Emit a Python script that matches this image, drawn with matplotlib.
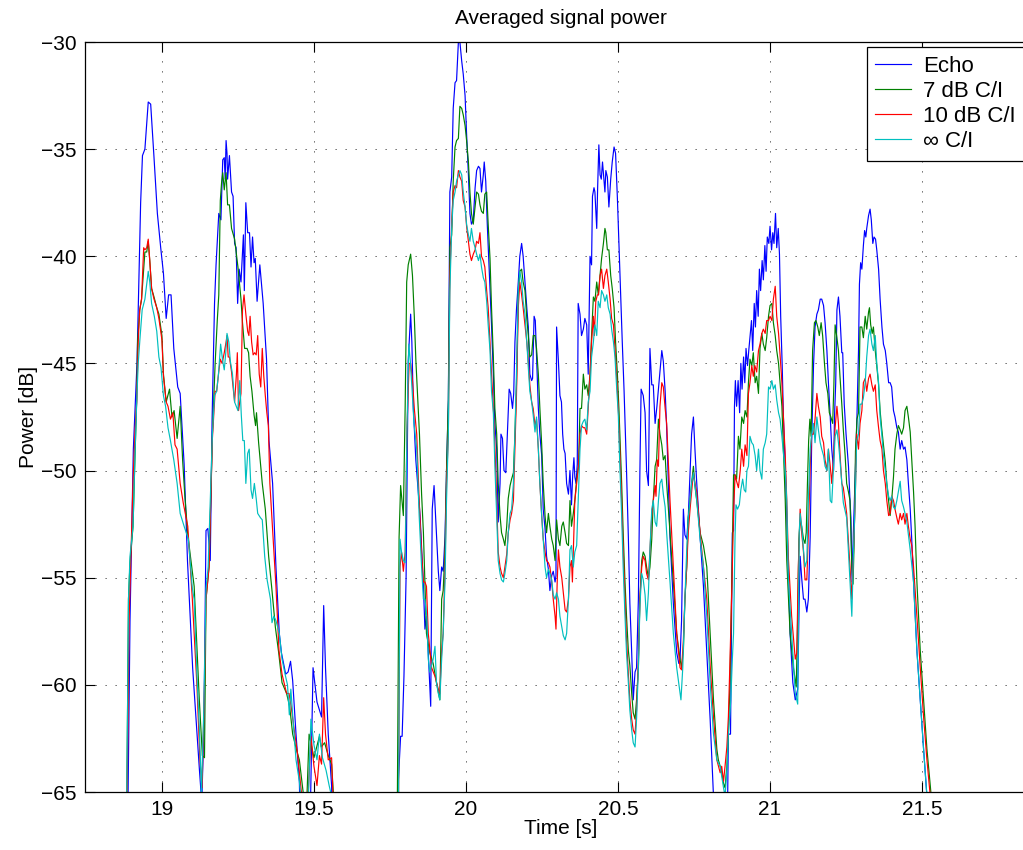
#!/usr/bin/env python3
"""
Averaged signal power of the echo and the residual signal for three C/I settings.
Values are read off the reference figure (points below -65 dB are off-scale).
"""

import numpy as np
import matplotlib
matplotlib.use("Agg")
import matplotlib.pyplot as plt
from matplotlib.ticker import FuncFormatter

OUTPUT_FILE = "out.png"

# (time [s], power [dB]) per series
ECHO = [
    (18.850, -70), (18.888, -66), (18.895, -57), (18.906, -49.0), (18.918, -45.0), (18.930, -37.5), (18.936, -35.3), (18.944, -35.0), (18.955, -32.8), (18.963, -32.9),
    (18.974, -35.4), (18.985, -38.0), (18.996, -39.6), (19.005, -40.8), (19.014, -42.9), (19.022, -41.8), (19.030, -41.8), (19.039, -44.3), (19.052, -46.1), (19.060, -46.4),
    (19.073, -49.7), (19.084, -54.2), (19.101, -59.2), (19.123, -63.9), (19.131, -65.5), (19.138, -62.0), (19.145, -52.8), (19.151, -52.7), (19.159, -54.2), (19.165, -47.6),
    (19.173, -42.2), (19.178, -40.4), (19.187, -38.0), (19.194, -38.3), (19.200, -35.5), (19.205, -35.4), (19.208, -36.4), (19.211, -34.6), (19.214, -35.2), (19.216, -36.4),
    (19.222, -35.3), (19.229, -37.0), (19.234, -37.2), (19.239, -39.4), (19.244, -39.6), (19.249, -42.2), (19.254, -40.6), (19.260, -41.2), (19.268, -39.0), (19.271, -41.6),
    (19.276, -37.5), (19.282, -38.9), (19.288, -38.9), (19.293, -40.5), (19.298, -39.1), (19.303, -40.3), (19.307, -40.1), (19.313, -42.1), (19.322, -40.4), (19.333, -42.2),
    (19.344, -44.8), (19.352, -48.6), (19.364, -50.6), (19.375, -54.5), (19.386, -57.6), (19.393, -58.5), (19.407, -59.5), (19.415, -59.4), (19.423, -58.9), (19.430, -59.8),
    (19.441, -62.3), (19.452, -64.5), (19.460, -70), (19.488, -66), (19.497, -59.2), (19.510, -60.8), (19.525, -61.5), (19.532, -56.3), (19.538, -59.2), (19.547, -62.3),
    (19.558, -64.7), (19.566, -70), (19.765, -70), (19.772, -66), (19.785, -62.4), (19.790, -62.4), (19.796, -59.6), (19.803, -55.0), (19.810, -44.9), (19.818, -42.7),
    (19.822, -44.0), (19.827, -47.1), (19.835, -49.5), (19.849, -52.1), (19.860, -55.4), (19.865, -57.4), (19.870, -56.8), (19.876, -58.5), (19.884, -61.0), (19.889, -51.8),
    (19.895, -50.7), (19.901, -52.4), (19.909, -54.7), (19.914, -55.6), (19.920, -54.5), (19.925, -54.7), (19.931, -53.1), (19.936, -50.0), (19.942, -46.7), (19.947, -37.0),
    (19.953, -36.3), (19.958, -33.1), (19.964, -31.9), (19.969, -31.8), (19.975, -30.0), (19.980, -30.0), (19.986, -30.9), (19.991, -31.5), (19.997, -32.5), (20.002, -34.3),
    (20.008, -36.2), (20.013, -38.0), (20.018, -38.5), (20.024, -38.3), (20.030, -36.8), (20.035, -36.0), (20.041, -35.8), (20.046, -35.9), (20.051, -37.0), (20.057, -36.2),
    (20.060, -35.6), (20.065, -36.5), (20.070, -38.5), (20.077, -40.8), (20.084, -43.2), (20.090, -45.5), (20.095, -47.8), (20.101, -49.0), (20.106, -52.4), (20.112, -50.6),
    (20.115, -48.3), (20.120, -48.5), (20.125, -50.0), (20.131, -50.1), (20.136, -48.3), (20.142, -46.2), (20.147, -46.4), (20.153, -47.1), (20.157, -46.4), (20.161, -44.0),
    (20.166, -42.5), (20.172, -41.2), (20.177, -40.0), (20.183, -39.4), (20.188, -40.0), (20.194, -41.2), (20.200, -42.4), (20.205, -43.3), (20.210, -45.5), (20.216, -45.8),
    (20.219, -45.7), (20.224, -42.8), (20.228, -43.0), (20.232, -44.7), (20.238, -47.1), (20.243, -48.3), (20.249, -49.3), (20.254, -51.8), (20.260, -52.7), (20.265, -54.0),
    (20.271, -54.6), (20.276, -55.6), (20.282, -54.9), (20.287, -54.7), (20.293, -55.2), (20.296, -54.9), (20.298, -43.3), (20.304, -44.9), (20.309, -46.5), (20.314, -46.8),
    (20.318, -48.3), (20.322, -49.0), (20.326, -49.2), (20.331, -50.6), (20.337, -51.1), (20.342, -50.0), (20.347, -51.6), (20.351, -50.2), (20.355, -49.4), (20.358, -50.3),
    (20.362, -50.6), (20.366, -49.7), (20.369, -42.2), (20.375, -42.7), (20.380, -43.7), (20.386, -43.4), (20.391, -42.9), (20.397, -43.2), (20.402, -45.5), (20.408, -40.0),
    (20.413, -40.4), (20.416, -37.2), (20.421, -36.8), (20.424, -37.0), (20.430, -38.7), (20.433, -36.8), (20.437, -34.8), (20.441, -36.2), (20.445, -36.4), (20.449, -35.6),
    (20.454, -36.5), (20.457, -37.0), (20.460, -36.0), (20.465, -36.3), (20.470, -37.7), (20.476, -36.4), (20.481, -35.6), (20.487, -34.9), (20.492, -35.2), (20.498, -37.3),
    (20.503, -39.4), (20.509, -41.8), (20.514, -44.0), (20.520, -46.3), (20.525, -48.6), (20.528, -50.0), (20.534, -53.1), (20.539, -56.2), (20.545, -58.5), (20.550, -60.7),
    (20.556, -59.4), (20.561, -59.2), (20.567, -56.0), (20.572, -50.0), (20.576, -46.2), (20.583, -46.5), (20.589, -47.3), (20.594, -50.0), (20.600, -50.7), (20.605, -44.3),
    (20.611, -46.0), (20.616, -46.0), (20.622, -47.8), (20.628, -47.0), (20.636, -45.7), (20.644, -44.4), (20.649, -44.9), (20.655, -46.3), (20.660, -48.0), (20.671, -53.1),
    (20.682, -56.2), (20.693, -58.5), (20.700, -59.0), (20.704, -58.8), (20.709, -57.0), (20.715, -51.8), (20.720, -53.0), (20.726, -53.2), (20.731, -52.2), (20.737, -50.0),
    (20.742, -48.3), (20.748, -47.5), (20.753, -49.0), (20.759, -50.6), (20.770, -53.1), (20.781, -55.4), (20.792, -58.5), (20.803, -61.6), (20.814, -65.2), (20.820, -70),
    (20.855, -70), (20.860, -66), (20.863, -62.3), (20.870, -62.3), (20.876, -52.9), (20.880, -52.8), (20.883, -47.0), (20.886, -45.8), (20.890, -47.0), (20.895, -45.8),
    (20.900, -47.3), (20.904, -45.0), (20.908, -46.2), (20.913, -44.7), (20.917, -45.9), (20.921, -44.3), (20.926, -45.1), (20.930, -44.4), (20.934, -43.8), (20.939, -43.0),
    (20.943, -44.4), (20.948, -42.2), (20.952, -43.3), (20.956, -41.6), (20.961, -42.8), (20.965, -40.6), (20.969, -41.6), (20.974, -40.2), (20.978, -41.1), (20.983, -39.5),
    (20.987, -40.7), (20.991, -39.1), (20.996, -39.4), (21.000, -38.6), (21.005, -39.7), (21.009, -38.9), (21.013, -39.4), (21.018, -38.0), (21.022, -39.6), (21.027, -38.7),
    (21.031, -39.9), (21.035, -42.8), (21.040, -45.1), (21.044, -47.5), (21.050, -49.8), (21.055, -52.1), (21.060, -54.5), (21.066, -57.6), (21.075, -59.9), (21.083, -60.7),
    (21.088, -60.4), (21.091, -60.2), (21.096, -56.0), (21.099, -54.0), (21.104, -55.0), (21.110, -56.0), (21.115, -56.0), (21.121, -56.6), (21.126, -56.0), (21.132, -53.1),
    (21.137, -48.6), (21.143, -45.1), (21.148, -43.3), (21.154, -42.7), (21.159, -42.5), (21.165, -42.0), (21.170, -42.0), (21.176, -42.3), (21.181, -43.1), (21.187, -44.4),
    (21.192, -45.9), (21.198, -47.5), (21.203, -49.0), (21.209, -50.0), (21.212, -47.5), (21.216, -45.9), (21.220, -42.5), (21.225, -41.9), (21.230, -42.8), (21.236, -44.5),
    (21.239, -44.5), (21.244, -46.9), (21.250, -48.3), (21.258, -49.8), (21.263, -51.4), (21.266, -52.2), (21.270, -55.2), (21.274, -52.9), (21.280, -50.3), (21.285, -48.0),
    (21.291, -44.4), (21.294, -41.3), (21.298, -40.3), (21.302, -40.6), (21.307, -39.5), (21.311, -38.8), (21.315, -39.1), (21.318, -38.7), (21.324, -38.1), (21.329, -37.8),
    (21.333, -38.3), (21.338, -39.4), (21.342, -39.1), (21.347, -39.2), (21.351, -39.7), (21.357, -40.6), (21.362, -42.0), (21.368, -43.3), (21.373, -44.1), (21.379, -44.4),
    (21.384, -45.0), (21.390, -45.9), (21.395, -45.9), (21.400, -46.1), (21.406, -47.2), (21.411, -47.5), (21.417, -48.0), (21.422, -48.2), (21.428, -49.0), (21.433, -48.6),
    (21.439, -49.0), (21.444, -48.9), (21.450, -49.5), (21.455, -50.6), (21.461, -51.8), (21.466, -53.2), (21.472, -55.2), (21.483, -58.4), (21.494, -60.7), (21.505, -63.0),
    (21.516, -65.2), (21.525, -70), (21.600, -70),
]

CI_7DB = [
    (18.850, -70), (18.884, -66), (18.890, -56), (18.895, -54.3), (18.905, -52.6), (18.910, -50.0), (18.917, -46.7), (18.920, -44.0), (18.927, -42.5), (18.933, -42.0),
    (18.944, -39.8), (18.950, -39.8), (18.955, -39.3), (18.960, -40.2), (18.966, -41.5), (18.974, -41.9), (18.983, -42.4), (18.990, -42.7), (19.000, -43.7), (19.005, -45.5),
    (19.014, -46.8), (19.025, -46.2), (19.033, -47.5), (19.040, -47.2), (19.050, -48.5), (19.060, -47.0), (19.068, -49.5), (19.075, -51.1), (19.085, -53.0), (19.106, -55.4),
    (19.123, -60.7), (19.133, -63.3), (19.140, -63.4), (19.145, -56.0), (19.155, -54.5), (19.166, -48.3), (19.175, -45.0), (19.182, -43.0), (19.187, -41.8), (19.192, -37.4),
    (19.196, -36.6), (19.200, -36.1), (19.205, -36.9), (19.211, -36.1), (19.216, -37.6), (19.222, -37.6), (19.229, -38.7), (19.239, -39.2), (19.244, -39.8), (19.250, -40.5),
    (19.260, -42.0), (19.265, -43.1), (19.272, -44.3), (19.280, -44.3), (19.285, -44.5), (19.290, -45.6), (19.296, -46.3), (19.303, -47.4), (19.308, -47.9), (19.311, -47.3),
    (19.318, -48.7), (19.330, -50.6), (19.340, -51.8), (19.351, -54.0), (19.362, -55.6), (19.373, -57.3), (19.384, -58.5), (19.395, -59.9), (19.410, -60.4), (19.420, -61.0),
    (19.430, -62.3), (19.442, -63.0), (19.452, -63.5), (19.466, -65.2), (19.475, -66), (19.484, -62.3), (19.500, -63.4), (19.518, -62.4), (19.524, -62.9), (19.535, -62.7),
    (19.547, -63.3), (19.558, -63.7), (19.568, -66), (19.580, -70), (19.765, -70), (19.774, -66), (19.780, -53.1), (19.785, -50.7), (19.790, -51.5), (19.794, -52.1),
    (19.800, -47.0), (19.805, -41.2), (19.810, -40.4), (19.818, -39.9), (19.824, -40.9), (19.830, -42.8), (19.835, -44.8), (19.843, -47.1), (19.847, -48.3), (19.854, -51.1),
    (19.860, -52.9), (19.865, -55.2), (19.870, -57.6), (19.881, -58.5), (19.892, -59.0), (19.903, -59.9), (19.914, -60.7), (19.920, -56.0), (19.925, -55.6), (19.931, -53.7),
    (19.936, -50.0), (19.942, -46.7), (19.947, -39.6), (19.953, -39.0), (19.958, -36.5), (19.964, -34.9), (19.969, -34.6), (19.975, -34.5), (19.980, -33.0), (19.986, -33.1),
    (19.991, -33.4), (19.997, -33.9), (20.002, -34.6), (20.008, -35.6), (20.013, -37.0), (20.018, -38.0), (20.024, -38.5), (20.030, -37.7), (20.035, -37.0), (20.041, -37.1),
    (20.046, -37.6), (20.051, -37.9), (20.057, -38.0), (20.062, -37.1), (20.068, -37.0), (20.073, -38.5), (20.079, -40.1), (20.084, -42.4), (20.090, -44.7), (20.095, -47.1),
    (20.101, -48.3), (20.106, -50.6), (20.112, -52.1), (20.117, -52.9), (20.123, -53.2), (20.128, -53.5), (20.134, -52.6), (20.139, -51.3), (20.145, -50.7), (20.150, -50.4),
    (20.156, -50.1), (20.161, -48.3), (20.166, -46.0), (20.172, -41.8), (20.177, -40.7), (20.183, -40.6), (20.188, -41.2), (20.194, -41.6), (20.200, -42.9), (20.205, -43.7),
    (20.210, -44.7), (20.216, -44.6), (20.221, -43.7), (20.227, -43.7), (20.232, -44.3), (20.238, -45.5), (20.243, -47.1), (20.249, -48.8), (20.254, -50.6), (20.260, -52.1),
    (20.265, -52.9), (20.271, -52.0), (20.276, -52.6), (20.282, -53.2), (20.287, -53.5), (20.293, -54.2), (20.298, -52.3), (20.304, -53.2), (20.309, -53.5), (20.315, -52.6),
    (20.320, -52.4), (20.326, -52.9), (20.331, -53.4), (20.337, -53.5), (20.342, -51.4), (20.347, -52.6), (20.353, -52.0), (20.358, -51.4), (20.364, -50.4), (20.370, -49.8),
    (20.375, -47.1), (20.380, -47.1), (20.386, -45.5), (20.391, -46.2), (20.397, -46.0), (20.402, -46.5), (20.408, -45.5), (20.413, -43.7), (20.419, -41.9), (20.424, -42.1),
    (20.430, -41.2), (20.435, -41.8), (20.441, -40.9), (20.446, -40.1), (20.452, -39.4), (20.457, -38.7), (20.460, -38.9), (20.465, -39.7), (20.470, -39.7), (20.476, -40.9),
    (20.481, -41.5), (20.487, -42.4), (20.492, -44.0), (20.498, -45.5), (20.503, -47.1), (20.506, -48.3), (20.512, -50.6), (20.517, -52.9), (20.523, -55.2), (20.528, -56.8),
    (20.534, -58.4), (20.539, -59.1), (20.545, -60.4), (20.550, -61.3), (20.556, -61.6), (20.561, -60.7), (20.567, -59.2), (20.572, -56.0), (20.578, -54.2), (20.583, -53.8),
    (20.589, -54.0), (20.594, -54.5), (20.600, -55.0), (20.605, -54.5), (20.611, -53.2), (20.616, -51.4), (20.622, -49.8), (20.627, -49.5), (20.633, -47.6), (20.638, -48.3),
    (20.644, -48.8), (20.649, -49.5), (20.655, -49.3), (20.660, -50.6), (20.671, -52.9), (20.682, -55.2), (20.693, -57.6), (20.704, -58.8), (20.709, -59.2), (20.715, -58.4),
    (20.720, -56.0), (20.726, -54.5), (20.731, -52.2), (20.737, -51.4), (20.742, -50.6), (20.748, -49.8), (20.753, -50.7), (20.759, -51.4), (20.770, -52.9), (20.781, -53.5),
    (20.792, -54.5), (20.803, -57.6), (20.814, -60.7), (20.825, -63.0), (20.830, -63.5), (20.836, -63.8), (20.841, -64.1), (20.847, -64.6), (20.852, -64.8), (20.858, -63.8),
    (20.863, -62.3), (20.868, -60.0), (20.874, -55.4), (20.880, -50.2), (20.885, -50.2), (20.890, -50.4), (20.896, -48.4), (20.901, -49.0), (20.907, -47.5), (20.913, -47.8),
    (20.918, -47.2), (20.924, -47.5), (20.929, -45.9), (20.934, -44.8), (20.940, -45.1), (20.945, -44.5), (20.951, -45.9), (20.956, -45.6), (20.962, -46.4), (20.967, -44.3),
    (20.973, -43.6), (20.978, -44.1), (20.984, -44.4), (20.989, -43.8), (20.995, -42.8), (21.000, -42.3), (21.006, -42.2), (21.011, -43.1), (21.017, -43.7), (21.022, -44.4),
    (21.028, -45.0), (21.033, -45.9), (21.039, -47.0), (21.044, -49.0), (21.050, -51.4), (21.055, -54.2), (21.066, -57.6), (21.077, -59.2), (21.086, -60.1), (21.090, -57.6),
    (21.095, -53.2), (21.099, -52.3), (21.104, -52.6), (21.110, -53.2), (21.115, -53.4), (21.119, -52.9), (21.123, -50.6), (21.127, -48.6), (21.131, -47.6), (21.135, -48.4),
    (21.140, -44.4), (21.146, -43.1), (21.151, -43.0), (21.157, -43.3), (21.162, -43.7), (21.168, -43.1), (21.173, -43.7), (21.179, -45.0), (21.184, -45.9), (21.190, -46.4),
    (21.195, -47.3), (21.200, -47.5), (21.206, -47.8), (21.210, -46.0), (21.214, -43.2), (21.220, -43.8), (21.225, -44.4), (21.230, -45.6), (21.236, -46.9), (21.241, -48.1),
    (21.247, -49.3), (21.252, -50.6), (21.258, -51.0), (21.263, -51.4), (21.269, -54.5), (21.273, -55.3), (21.277, -53.1), (21.281, -49.1), (21.286, -47.6), (21.291, -47.3),
    (21.296, -43.3), (21.302, -43.3), (21.307, -43.8), (21.313, -42.8), (21.318, -43.4), (21.324, -42.6), (21.327, -42.4), (21.331, -43.2), (21.336, -43.6), (21.340, -43.3),
    (21.346, -44.4), (21.351, -45.1), (21.357, -46.0), (21.362, -47.2), (21.367, -48.0), (21.373, -48.8), (21.379, -49.6), (21.384, -50.6), (21.390, -51.4), (21.395, -52.1),
    (21.400, -51.4), (21.406, -50.3), (21.411, -49.0), (21.417, -48.3), (21.422, -47.9), (21.428, -48.1), (21.433, -48.3), (21.439, -48.0), (21.444, -47.2), (21.450, -47.0),
    (21.455, -47.5), (21.461, -48.2), (21.466, -49.5), (21.472, -51.0), (21.477, -52.6), (21.483, -55.2), (21.494, -58.4), (21.505, -60.7), (21.516, -63.0), (21.527, -64.7),
    (21.535, -66), (21.545, -70), (21.600, -70),
]

CI_10DB = [
    (18.850, -70), (18.885, -66), (18.892, -57), (18.900, -53.0), (18.905, -50.5), (18.912, -48.0), (18.917, -46.8), (18.922, -44.0), (18.927, -42.5), (18.933, -42.0),
    (18.940, -39.6), (18.944, -39.7), (18.950, -39.6), (18.955, -39.2), (18.960, -40.2), (18.966, -41.5), (18.974, -42.0), (18.983, -42.4), (18.990, -42.9), (19.000, -43.9),
    (19.005, -45.6), (19.014, -46.8), (19.020, -47.0), (19.028, -47.6), (19.036, -47.3), (19.043, -48.8), (19.050, -49.0), (19.060, -50.6), (19.070, -51.5), (19.085, -52.6),
    (19.100, -56.0), (19.115, -60.0), (19.125, -63.5), (19.132, -64.8), (19.140, -60.0), (19.145, -56.0), (19.155, -54.5), (19.166, -48.5), (19.175, -46.3), (19.180, -46.3),
    (19.186, -45.5), (19.192, -44.8), (19.198, -45.0), (19.205, -44.5), (19.211, -44.0), (19.214, -43.7), (19.218, -44.7), (19.222, -44.7), (19.229, -45.4), (19.239, -46.8),
    (19.245, -45.5), (19.248, -44.5), (19.252, -47.2), (19.260, -46.4), (19.265, -42.5), (19.270, -41.8), (19.276, -42.7), (19.282, -43.5), (19.286, -43.7), (19.290, -42.8),
    (19.295, -44.0), (19.300, -44.6), (19.305, -44.5), (19.310, -44.6), (19.315, -43.7), (19.320, -45.5), (19.325, -46.1), (19.330, -44.3), (19.335, -45.6), (19.340, -46.5),
    (19.345, -47.3), (19.350, -47.9), (19.355, -50.6), (19.365, -53.0), (19.375, -55.4), (19.385, -58.4), (19.395, -59.5), (19.410, -60.4), (19.418, -60.4), (19.425, -61.0),
    (19.435, -62.1), (19.445, -63.1), (19.460, -65.2), (19.470, -70), (19.478, -66), (19.490, -62.4), (19.500, -63.8), (19.510, -64.7), (19.518, -63.3), (19.525, -63.7),
    (19.532, -60.6), (19.538, -62.3), (19.547, -63.5), (19.558, -63.4), (19.565, -66), (19.575, -70), (19.765, -70), (19.778, -66), (19.783, -54.5), (19.788, -53.8),
    (19.794, -54.7), (19.800, -53.8), (19.806, -48.0), (19.813, -45.0), (19.818, -45.0), (19.824, -45.8), (19.830, -47.1), (19.838, -48.3), (19.846, -51.4), (19.854, -53.8),
    (19.860, -55.2), (19.865, -55.2), (19.870, -55.4), (19.876, -57.6), (19.887, -59.2), (19.898, -59.6), (19.909, -60.2), (19.914, -60.4), (19.920, -58.4), (19.925, -57.6),
    (19.931, -54.5), (19.936, -50.6), (19.942, -48.3), (19.947, -40.9), (19.953, -38.5), (19.958, -37.0), (19.964, -36.7), (19.969, -36.8), (19.975, -36.0), (19.980, -36.3),
    (19.986, -36.5), (19.991, -37.4), (19.997, -37.7), (20.002, -38.6), (20.008, -39.3), (20.013, -39.9), (20.018, -40.2), (20.024, -39.9), (20.030, -39.7), (20.035, -39.3),
    (20.041, -39.4), (20.046, -38.9), (20.051, -40.0), (20.057, -40.2), (20.062, -40.5), (20.068, -41.6), (20.073, -42.4), (20.079, -44.0), (20.084, -45.5), (20.090, -47.1),
    (20.095, -48.8), (20.101, -51.4), (20.106, -53.8), (20.112, -54.5), (20.117, -54.8), (20.123, -55.0), (20.128, -54.5), (20.134, -53.9), (20.139, -52.9), (20.145, -52.3),
    (20.150, -52.0), (20.156, -51.4), (20.161, -49.0), (20.166, -46.5), (20.172, -42.4), (20.177, -41.2), (20.183, -41.8), (20.188, -42.4), (20.194, -43.2), (20.200, -44.0),
    (20.205, -44.9), (20.210, -46.0), (20.216, -46.8), (20.221, -47.1), (20.227, -47.9), (20.232, -47.6), (20.238, -49.0), (20.243, -50.6), (20.249, -52.1), (20.254, -53.2),
    (20.260, -53.8), (20.265, -54.2), (20.271, -54.3), (20.276, -54.5), (20.282, -55.2), (20.287, -56.0), (20.293, -56.8), (20.296, -57.4), (20.300, -55.2), (20.304, -53.7),
    (20.309, -54.5), (20.315, -55.0), (20.320, -55.7), (20.326, -56.5), (20.331, -56.6), (20.337, -56.0), (20.342, -54.5), (20.347, -54.2), (20.350, -55.2), (20.355, -52.9),
    (20.358, -51.4), (20.364, -50.6), (20.370, -49.8), (20.375, -48.3), (20.380, -47.9), (20.386, -48.0), (20.391, -48.0), (20.397, -48.3), (20.402, -47.1), (20.408, -45.5),
    (20.413, -44.0), (20.419, -42.8), (20.422, -43.7), (20.427, -42.1), (20.432, -41.8), (20.436, -41.8), (20.441, -40.9), (20.446, -40.6), (20.452, -41.5), (20.457, -40.9),
    (20.463, -40.6), (20.468, -41.2), (20.474, -42.0), (20.479, -42.9), (20.485, -43.2), (20.490, -44.3), (20.495, -45.5), (20.501, -47.1), (20.506, -49.0), (20.512, -51.4),
    (20.517, -53.7), (20.523, -56.0), (20.528, -57.9), (20.534, -59.5), (20.539, -60.7), (20.545, -61.6), (20.550, -62.1), (20.556, -62.3), (20.561, -61.2), (20.567, -58.8),
    (20.572, -56.0), (20.578, -54.5), (20.583, -54.0), (20.589, -54.2), (20.594, -54.8), (20.600, -55.1), (20.605, -53.7), (20.611, -52.1), (20.616, -51.4), (20.622, -50.7),
    (20.625, -51.2), (20.629, -49.5), (20.633, -49.8), (20.638, -47.0), (20.644, -45.9), (20.649, -46.1), (20.655, -47.1), (20.660, -47.8), (20.671, -51.4), (20.682, -54.5),
    (20.693, -57.6), (20.704, -59.2), (20.709, -59.3), (20.715, -57.9), (20.720, -56.0), (20.726, -54.5), (20.731, -52.9), (20.737, -51.8), (20.742, -51.0), (20.748, -50.1),
    (20.753, -50.6), (20.759, -51.0), (20.770, -52.9), (20.781, -54.5), (20.792, -56.0), (20.803, -59.1), (20.814, -61.5), (20.825, -63.5), (20.836, -64.1), (20.841, -63.8),
    (20.847, -64.5), (20.852, -63.8), (20.858, -62.9), (20.863, -61.5), (20.868, -59.0), (20.874, -55.7), (20.880, -52.0), (20.885, -50.2), (20.890, -50.5), (20.896, -50.8),
    (20.902, -50.0), (20.907, -49.0), (20.913, -49.8), (20.918, -48.8), (20.924, -49.3), (20.929, -46.4), (20.934, -45.9), (20.940, -45.1), (20.945, -45.6), (20.950, -45.1),
    (20.956, -45.4), (20.962, -44.4), (20.967, -44.1), (20.973, -43.6), (20.978, -43.4), (20.984, -43.6), (20.989, -43.0), (20.995, -43.0), (21.000, -42.8), (21.006, -43.0),
    (21.011, -42.0), (21.017, -41.4), (21.022, -42.8), (21.028, -43.6), (21.033, -44.6), (21.039, -45.9), (21.044, -47.5), (21.050, -49.3), (21.055, -51.4), (21.060, -54.0),
    (21.071, -56.8), (21.083, -58.8), (21.088, -58.5), (21.093, -54.5), (21.099, -51.8), (21.104, -52.9), (21.110, -53.8), (21.115, -55.1), (21.121, -55.1), (21.126, -52.9),
    (21.132, -49.8), (21.137, -48.3), (21.143, -48.3), (21.148, -47.6), (21.154, -46.4), (21.159, -47.0), (21.165, -47.5), (21.170, -48.4), (21.176, -48.7), (21.181, -49.5),
    (21.187, -50.0), (21.192, -49.0), (21.198, -49.8), (21.203, -50.6), (21.209, -49.3), (21.214, -48.0), (21.220, -47.0), (21.225, -47.8), (21.230, -49.2), (21.236, -50.6),
    (21.241, -50.8), (21.252, -52.0), (21.263, -54.5), (21.269, -56.0), (21.274, -54.0), (21.280, -51.4), (21.285, -48.3), (21.291, -49.0), (21.296, -47.8), (21.302, -47.2),
    (21.307, -45.9), (21.313, -45.7), (21.318, -46.3), (21.324, -45.7), (21.329, -45.5), (21.335, -46.0), (21.340, -46.3), (21.346, -46.0), (21.351, -47.2), (21.357, -48.0),
    (21.362, -48.6), (21.368, -49.0), (21.373, -50.0), (21.379, -50.6), (21.384, -51.4), (21.390, -52.1), (21.395, -52.0), (21.400, -51.2), (21.406, -51.4), (21.411, -51.8),
    (21.417, -52.2), (21.422, -52.5), (21.428, -52.0), (21.433, -52.3), (21.439, -52.0), (21.444, -52.5), (21.450, -52.0), (21.455, -52.6), (21.461, -53.2), (21.466, -53.5),
    (21.472, -54.5), (21.483, -56.8), (21.494, -59.2), (21.505, -61.5), (21.516, -63.5), (21.527, -65.2), (21.535, -70), (21.600, -70),
]

CI_INF = [
    (18.850, -70), (18.884, -66), (18.890, -56), (18.895, -54.0), (18.905, -52.6), (18.912, -49.0), (18.917, -46.8), (18.922, -45.0), (18.928, -43.8), (18.935, -42.5),
    (18.944, -42.0), (18.950, -41.3), (18.955, -40.7), (18.960, -41.2), (18.966, -42.2), (18.975, -42.8), (18.983, -43.5), (18.990, -44.7), (18.997, -45.2), (19.005, -46.5),
    (19.012, -47.0), (19.020, -48.0), (19.028, -48.6), (19.039, -49.5), (19.050, -50.6), (19.060, -52.0), (19.073, -52.6), (19.087, -53.2), (19.100, -55.5), (19.106, -56.0),
    (19.115, -59.5), (19.123, -62.0), (19.130, -65.0), (19.138, -61.0), (19.145, -55.5), (19.152, -54.5), (19.160, -51.0), (19.166, -48.3), (19.173, -46.5), (19.180, -46.3),
    (19.186, -45.5), (19.193, -44.1), (19.200, -44.9), (19.205, -45.3), (19.210, -44.5), (19.214, -43.6), (19.220, -44.0), (19.225, -44.9), (19.232, -45.5), (19.239, -46.8),
    (19.250, -47.2), (19.256, -45.8), (19.261, -47.4), (19.266, -48.6), (19.271, -48.6), (19.276, -50.6), (19.282, -49.2), (19.287, -49.0), (19.293, -50.9), (19.298, -51.3),
    (19.304, -50.6), (19.310, -51.3), (19.315, -52.0), (19.324, -52.2), (19.330, -52.3), (19.338, -54.0), (19.346, -55.1), (19.357, -56.0), (19.362, -57.1), (19.368, -56.8),
    (19.375, -57.0), (19.386, -57.6), (19.395, -58.8), (19.405, -59.5), (19.413, -60.0), (19.419, -61.4), (19.424, -60.2), (19.430, -61.4), (19.441, -63.5), (19.452, -64.5),
    (19.462, -66), (19.470, -70), (19.480, -66), (19.490, -61.6), (19.500, -62.8), (19.510, -63.5), (19.518, -62.3), (19.528, -63.4), (19.540, -64.0), (19.550, -64.7),
    (19.558, -65.2), (19.565, -70), (19.765, -70), (19.778, -66), (19.783, -53.2), (19.788, -53.8), (19.794, -54.2), (19.800, -54.3), (19.806, -48.0), (19.812, -44.1),
    (19.817, -44.9), (19.823, -46.3), (19.829, -47.8), (19.838, -49.0), (19.846, -52.1), (19.854, -54.5), (19.860, -56.0), (19.865, -56.0), (19.871, -56.8), (19.876, -58.8),
    (19.881, -59.4), (19.892, -58.8), (19.898, -58.2), (19.903, -59.9), (19.909, -60.4), (19.914, -60.7), (19.920, -58.8), (19.925, -57.6), (19.931, -55.2), (19.936, -51.4),
    (19.942, -48.3), (19.947, -41.6), (19.953, -38.7), (19.958, -37.4), (19.964, -37.0), (19.969, -36.5), (19.975, -36.2), (19.980, -36.0), (19.986, -36.2), (19.991, -37.0),
    (19.997, -37.7), (20.002, -38.5), (20.008, -39.0), (20.013, -39.3), (20.018, -38.7), (20.024, -39.3), (20.030, -39.6), (20.035, -39.9), (20.041, -40.2), (20.046, -39.9),
    (20.051, -40.5), (20.057, -41.0), (20.062, -41.2), (20.068, -42.1), (20.073, -43.2), (20.079, -44.4), (20.084, -46.3), (20.090, -47.3), (20.095, -49.8), (20.101, -52.1),
    (20.106, -54.2), (20.112, -54.8), (20.117, -55.1), (20.123, -55.2), (20.128, -54.8), (20.134, -54.2), (20.139, -52.9), (20.145, -52.0), (20.150, -51.8), (20.156, -50.6),
    (20.161, -48.3), (20.166, -45.5), (20.172, -41.6), (20.177, -40.7), (20.183, -41.2), (20.188, -42.1), (20.194, -42.7), (20.200, -44.0), (20.205, -45.2), (20.210, -46.3),
    (20.216, -46.8), (20.221, -47.4), (20.227, -48.2), (20.232, -47.5), (20.238, -49.0), (20.243, -50.6), (20.249, -52.1), (20.254, -53.2), (20.260, -54.5), (20.265, -55.0),
    (20.271, -54.6), (20.276, -54.8), (20.282, -55.1), (20.287, -55.8), (20.293, -56.0), (20.298, -55.7), (20.304, -56.0), (20.309, -56.8), (20.315, -57.3), (20.320, -57.7),
    (20.326, -57.9), (20.331, -57.6), (20.337, -56.0), (20.342, -53.7), (20.347, -53.5), (20.353, -54.5), (20.358, -53.8), (20.364, -53.5), (20.369, -51.4), (20.375, -49.0),
    (20.380, -47.9), (20.386, -47.7), (20.391, -47.6), (20.397, -48.1), (20.402, -46.8), (20.408, -46.3), (20.413, -44.7), (20.419, -44.0), (20.424, -43.2), (20.430, -43.7),
    (20.435, -42.1), (20.441, -42.4), (20.446, -41.6), (20.452, -41.8), (20.457, -42.1), (20.463, -41.8), (20.468, -42.4), (20.474, -42.7), (20.479, -43.4), (20.485, -44.0),
    (20.490, -44.7), (20.495, -46.0), (20.501, -47.4), (20.506, -49.8), (20.512, -52.1), (20.517, -54.5), (20.523, -56.8), (20.528, -58.5), (20.534, -59.9), (20.539, -61.2),
    (20.545, -62.1), (20.550, -62.7), (20.556, -62.9), (20.561, -61.6), (20.567, -59.2), (20.572, -56.3), (20.578, -54.8), (20.583, -55.1), (20.589, -55.8), (20.594, -57.0),
    (20.600, -55.7), (20.605, -53.7), (20.611, -51.8), (20.616, -51.4), (20.622, -52.4), (20.627, -52.6), (20.633, -51.4), (20.638, -50.6), (20.644, -50.4), (20.649, -51.1),
    (20.655, -51.7), (20.660, -52.9), (20.671, -55.2), (20.682, -57.6), (20.693, -59.2), (20.704, -60.4), (20.707, -60.7), (20.713, -59.2), (20.720, -56.0), (20.726, -53.7),
    (20.731, -52.2), (20.737, -51.4), (20.742, -50.6), (20.748, -50.1), (20.753, -50.7), (20.759, -51.4), (20.770, -53.2), (20.781, -54.5), (20.792, -56.8), (20.803, -59.9),
    (20.814, -62.3), (20.825, -63.5), (20.836, -63.8), (20.847, -64.8), (20.852, -65.2), (20.858, -64.0), (20.863, -62.3), (20.871, -60.7), (20.876, -58.8), (20.880, -57.6),
    (20.885, -53.0), (20.888, -51.6), (20.893, -51.8), (20.899, -51.6), (20.904, -50.9), (20.910, -50.4), (20.915, -50.9), (20.920, -51.0), (20.924, -50.0), (20.929, -49.8),
    (20.934, -48.4), (20.940, -48.7), (20.945, -48.8), (20.951, -49.3), (20.956, -50.0), (20.962, -49.0), (20.967, -50.0), (20.973, -50.4), (20.978, -49.0), (20.984, -48.7),
    (20.989, -48.3), (20.995, -46.1), (21.000, -46.2), (21.006, -45.8), (21.011, -46.2), (21.017, -46.0), (21.022, -46.7), (21.028, -47.3), (21.033, -47.6), (21.039, -48.4),
    (21.044, -49.2), (21.050, -50.0), (21.055, -51.4), (21.060, -55.0), (21.071, -57.6), (21.083, -60.4), (21.088, -60.7), (21.091, -60.9), (21.096, -52.9), (21.099, -52.0),
    (21.104, -52.6), (21.110, -53.7), (21.115, -54.5), (21.121, -54.2), (21.126, -51.4), (21.132, -49.0), (21.137, -48.3), (21.143, -47.8), (21.148, -48.7), (21.154, -47.5),
    (21.159, -48.1), (21.165, -48.7), (21.170, -49.0), (21.176, -49.3), (21.181, -49.8), (21.187, -50.0), (21.192, -49.0), (21.198, -51.4), (21.203, -51.5), (21.209, -49.8),
    (21.214, -48.4), (21.220, -48.1), (21.225, -48.7), (21.230, -49.5), (21.236, -50.6), (21.241, -51.5), (21.252, -52.2), (21.263, -55.2), (21.269, -56.8), (21.274, -54.0),
    (21.280, -51.4), (21.285, -48.6), (21.291, -48.3), (21.296, -46.9), (21.302, -46.9), (21.307, -46.6), (21.313, -45.9), (21.318, -44.7), (21.324, -43.7), (21.329, -43.4),
    (21.335, -44.1), (21.340, -44.4), (21.346, -43.7), (21.351, -45.0), (21.357, -45.9), (21.362, -47.5), (21.368, -48.4), (21.373, -49.3), (21.379, -50.0), (21.384, -50.6),
    (21.390, -51.2), (21.395, -51.4), (21.400, -51.2), (21.406, -51.7), (21.411, -51.8), (21.417, -51.4), (21.422, -51.0), (21.428, -50.5), (21.433, -51.4), (21.439, -51.7),
    (21.444, -52.0), (21.450, -52.4), (21.455, -53.0), (21.461, -53.7), (21.472, -55.2), (21.483, -58.4), (21.494, -60.7), (21.505, -63.0), (21.516, -65.2), (21.525, -70),
    (21.600, -70),
]

SERIES_LABELS = ["Echo", "7 dB C/I", "10 dB C/I", "\u221e C/I"]
SERIES_COLORS = ["#0000ff", "#008000", "#ff0000", "#00bfbf"]

X_TICKS = [19, 19.5, 20, 20.5, 21, 21.5]
Y_TICKS = [-65, -60, -55, -50, -45, -40, -35, -30]


def fmt_tick(v, _pos):
    return f"{v:g}".replace("-", "\u2212")


def main():
    plt.rcParams["font.family"] = ["Liberation Sans", "DejaVu Sans"]
    plt.rcParams["font.size"] = 15

    fig = plt.figure(figsize=(10.23, 8.5), dpi=100)
    ax = fig.add_axes([85 / 1023, 58 / 850, 952 / 1023, 750 / 850])

    for data, label, color in zip([ECHO, CI_7DB, CI_10DB, CI_INF], SERIES_LABELS, SERIES_COLORS):
        t, p = np.array(data).T
        ax.plot(t, p, color=color, linewidth=0.85, label=label)

    ax.set_xlim(18.747, 21.878)
    ax.set_ylim(-65, -30)
    ax.set_xticks(X_TICKS)
    ax.set_yticks(Y_TICKS)
    ax.xaxis.set_major_formatter(FuncFormatter(fmt_tick))
    ax.yaxis.set_major_formatter(FuncFormatter(fmt_tick))
    ax.tick_params(direction="in", length=7, width=0.8, top=True, right=True,
                   labelsize=15, pad=6)
    ax.grid(True, linestyle=(0, (1.5, 10.5)), linewidth=0.6, color="0.2")
    for spine in ax.spines.values():
        spine.set_linewidth(0.9)

    ax.set_title("Averaged signal power", fontsize=15, pad=13)
    ax.set_xlabel("Time [s]", fontsize=15, labelpad=0)
    ax.set_ylabel("Power [dB]", fontsize=15, labelpad=2)

    leg = ax.legend(loc="upper left", bbox_to_anchor=(0.821, 0.993), fontsize=16,
                    frameon=True, fancybox=False, framealpha=1, edgecolor="black",
                    borderaxespad=0, handlelength=1.6, labelspacing=0.18,
                    borderpad=0.4, handletextpad=0.55)
    leg.get_frame().set_linewidth(0.9)

    fig.savefig(OUTPUT_FILE, dpi=100, facecolor="white")
    print(f"Saved: {OUTPUT_FILE}")


if __name__ == "__main__":
    main()
